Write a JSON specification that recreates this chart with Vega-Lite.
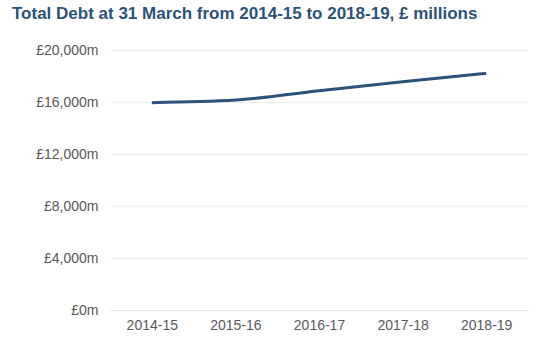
{
  "$schema": "https://vega.github.io/schema/vega-lite/v6.json",
  "autosize": {"type": "none"},
  "width": 418,
  "height": 260,
  "padding": {"left": 110, "top": 50, "right": 21, "bottom": 42},
  "background": "white",
  "title": {
    "text": "Total Debt at 31 March from 2014-15 to 2018-19, £ millions",
    "anchor": "start",
    "frame": "group",
    "dx": -98,
    "offset": 20,
    "font": "Liberation Sans",
    "fontSize": 17,
    "fontWeight": "bold",
    "color": "#2b5279"
  },
  "data": {
    "values": [
      {"year": "2014-15", "debt": 15950},
      {"year": "2015-16", "debt": 16150},
      {"year": "2016-17", "debt": 16870},
      {"year": "2017-18", "debt": 17560},
      {"year": "2018-19", "debt": 18200}
    ]
  },
  "mark": {"type": "line", "color": "#2b5279", "strokeWidth": 3, "interpolate": "monotone"},
  "encoding": {
    "x": {
      "field": "year",
      "type": "ordinal",
      "title": null,
      "axis": {"labelAngle": 0, "domain": true, "domainColor": "#e6e6e6", "ticks": false, "grid": false, "labelPadding": 8, "labelFont": "Liberation Sans", "labelFontSize": 14, "labelColor": "#595959"}
    },
    "y": {
      "field": "debt",
      "type": "quantitative",
      "title": null,
      "scale": {"domain": [0, 20000]},
      "axis": {
        "values": [0, 4000, 8000, 12000, 16000, 20000],
        "labelExpr": "'£' + format(datum.value, ',') + 'm'",
        "domain": false,
        "ticks": false,
        "gridColor": "#ececec",
        "labelPadding": 12,
        "labelFont": "Liberation Sans",
        "labelFontSize": 14,
        "labelColor": "#595959"
      }
    }
  },
  "config": {"view": {"stroke": null}}
}
